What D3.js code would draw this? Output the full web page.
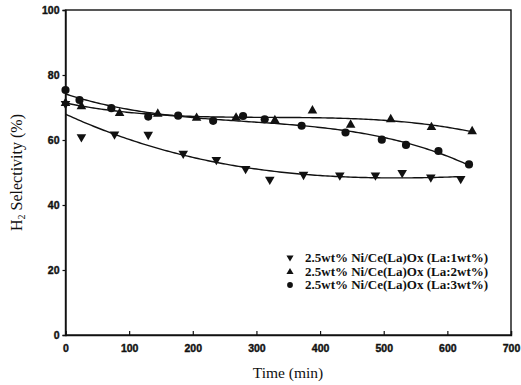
<!DOCTYPE html>
<html><head><meta charset="utf-8">
<script src="https://cdn.jsdelivr.net/npm/d3@7"></script>
<style>body{margin:0;background:#fff}</style></head>
<body>
<svg id="c" width="521" height="385"></svg>
<script>
// ---- data ----
const xTicks = [0, 100, 200, 300, 400, 500, 600, 700];
const yTicks = [0, 20, 40, 60, 80, 100];
const seriesNames = ["2.5wt% Ni/Ce(La)Ox (La:1wt%)", "2.5wt% Ni/Ce(La)Ox (La:2wt%)", "2.5wt% Ni/Ce(La)Ox (La:3wt%)"];
const la1Time = [0, 25, 77, 130, 185, 237, 283, 321, 374, 431, 487, 529, 574, 621];
const la1Sel  = [71, 60.8, 61.6, 61.5, 55.7, 53.8, 51.0, 47.7, 49.2, 49.0, 49.0, 49.8, 48.4, 47.9];
const la2Time = [0, 25, 85, 145, 206, 268, 329, 388, 448, 511, 575, 639];
const la2Sel  = [71.5, 70.5, 68.4, 68.2, 66.9, 67.0, 66.2, 69.2, 64.8, 66.5, 64.1, 62.8];
const la3Time = [0, 22, 72, 130, 177, 232, 279, 313, 371, 440, 497, 535, 586, 634];
const la3Sel  = [75.4, 72.3, 69.8, 67.2, 67.5, 65.9, 67.4, 66.4, 64.4, 62.3, 60.1, 58.5, 56.6, 52.5];

const series = [
  {name: seriesNames[0], t: la1Time, v: la1Sel, sym: "down"},
  {name: seriesNames[1], t: la2Time, v: la2Sel, sym: "up"},
  {name: seriesNames[2], t: la3Time, v: la3Sel, sym: "circle"}
];

// ---- helpers: cubic least squares fit ----
function polyfit(xs, ys, deg) {
  const n = deg + 1, s = 700;
  const A = Array.from({length: n}, () => new Array(n + 1).fill(0));
  xs.forEach((x0, k) => {
    const x = x0 / s;
    for (let i = 0; i < n; i++) {
      for (let j = 0; j < n; j++) A[i][j] += Math.pow(x, i + j);
      A[i][n] += ys[k] * Math.pow(x, i);
    }
  });
  for (let i = 0; i < n; i++) {
    let p = i;
    for (let r = i + 1; r < n; r++) if (Math.abs(A[r][i]) > Math.abs(A[p][i])) p = r;
    [A[i], A[p]] = [A[p], A[i]];
    for (let r = 0; r < n; r++) if (r !== i) {
      const f = A[r][i] / A[i][i];
      for (let c = i; c <= n; c++) A[r][c] -= f * A[i][c];
    }
  }
  const coef = A.map((row, i) => row[n] / row[i]);
  return x => coef.reduce((acc, c, i) => acc + c * Math.pow(x / s, i), 0);
}

// ---- chart ----
const svg = d3.select("#c");
const x = d3.scaleLinear().domain([0, 700]).range([65.5, 511]);
const y = d3.scaleLinear().domain([0, 100]).range([335, 10]);

const tickFont = "'Liberation Sans', Arial, sans-serif";
const serif = "'Liberation Serif', 'Times New Roman', serif";

// frame
svg.append("rect").attr("x", x(0)).attr("y", y(100))
  .attr("width", x(700) - x(0)).attr("height", y(0) - y(100))
  .attr("fill", "none").attr("stroke", "#111").attr("stroke-width", 1.4);

const xAxis = svg.append("g").attr("transform", `translate(0,${y(0)})`)
  .call(d3.axisBottom(x).tickValues(xTicks).tickFormat(d3.format("d")).tickSize(-4).tickPadding(10));
const yAxis = svg.append("g").attr("transform", `translate(${x(0)},0)`)
  .call(d3.axisLeft(y).tickValues(yTicks).tickFormat(d3.format("d")).tickSize(3).tickPadding(3));
[xAxis, yAxis].forEach(g => {
  g.select(".domain").attr("stroke", "#111").attr("stroke-width", 1.4);
  g.selectAll(".tick line").attr("stroke", "#111").attr("stroke-width", 1.2);
  g.selectAll(".tick text").attr("font-family", tickFont).attr("font-weight", "bold")
    .attr("font-size", 10.5).attr("fill", "#111").attr("stroke", "#111").attr("stroke-width", 0.4);
});

// fit lines
const line = d3.line().x(d => x(d[0])).y(d => y(d[1])).curve(d3.curveLinear);
series.forEach(s => {
  const f = polyfit(s.t, s.v, 3);
  const tMax = d3.max(s.t);
  const pts = d3.range(0, tMax + 0.001, 4).map(t => [t, f(t)]);
  svg.append("path").attr("d", line(pts)).attr("fill", "none")
    .attr("stroke", "#111").attr("stroke-width", 1.4);
});

// markers
function symPath(sym, size) {
  if (sym === "circle") return d3.symbol(d3.symbolCircle, size)();
  return d3.symbol(d3.symbolTriangle, size)();
}
function drawMarker(g, sym, cx, cy, size) {
  const p = g.append("path").attr("d", symPath(sym, size)).attr("fill", "#111");
  const rot = sym === "down" ? " rotate(180)" : "";
  const dy = sym === "up" ? 0.5 : (sym === "down" ? -0.5 : 0);
  p.attr("transform", `translate(${cx},${cy + dy})${rot}`);
}
series.forEach(s => {
  const g = svg.append("g");
  s.t.forEach((t, i) => drawMarker(g, s.sym, x(t), y(s.v[i]), s.sym === "circle" ? 52 : 40));
});

// legend
const lg = svg.append("g");
series.forEach((s, i) => {
  const ly = 258 + i * 13.5;
  drawMarker(lg, s.sym, 290, ly, s.sym === "circle" ? 26 : 22);
  lg.append("text").attr("x", 305).attr("y", ly + 4).text(s.name)
    .attr("font-family", serif).attr("font-size", 13).attr("font-weight", "bold").attr("fill", "#111");
});

// axis titles
svg.append("text").attr("x", 288).attr("y", 378).attr("text-anchor", "middle")
  .attr("font-family", serif).attr("font-size", 15.5).attr("fill", "#111").text("Time (min)");
const yl = svg.append("text").attr("transform", `translate(22,${(y(0) + y(100)) / 2}) rotate(-90)`)
  .attr("text-anchor", "middle").attr("font-family", serif).attr("font-size", 16).attr("fill", "#111");
yl.append("tspan").text("H");
yl.append("tspan").text("2").attr("font-size", 10).attr("dy", 3);
yl.append("tspan").text(" Selectivity (%)").attr("dy", -3);
</script>
</body></html>
